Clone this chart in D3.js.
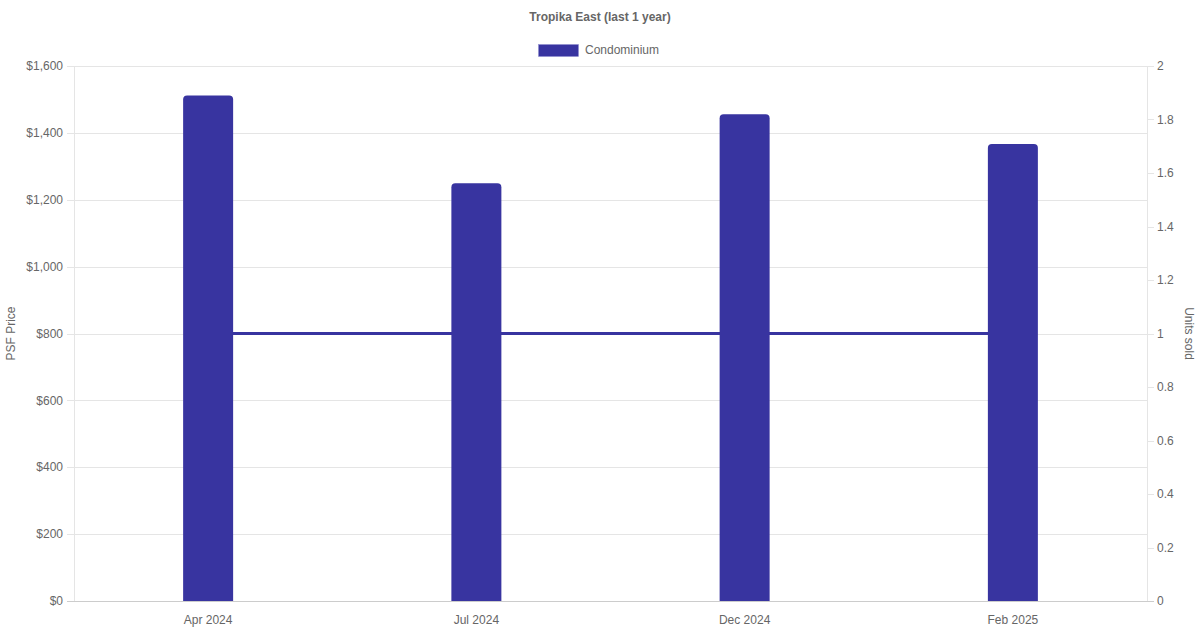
<!DOCTYPE html>
<html><head><meta charset="utf-8">
<script src="https://cdn.jsdelivr.net/npm/d3@7"></script>
<style>body{margin:0;background:#fff;}svg{display:block;font-family:"Liberation Sans",Arial,sans-serif;}</style>
</head><body>
<svg id="c" width="1200" height="630"></svg>
<script>
const categories = ["Apr 2024", "Jul 2024", "Dec 2024", "Feb 2025"];
const psfPrice = [1512, 1249, 1456, 1367];
const unitsSold = [1, 1, 1, 1];
const leftTicks = [0, 200, 400, 600, 800, 1000, 1200, 1400, 1600];
const rightTicks = [0, 0.2, 0.4, 0.6, 0.8, 1, 1.2, 1.4, 1.6, 1.8, 2];
const title = "Tropika East (last 1 year)";
const seriesName = "Condominium";

const color = "#3834a0";
const textColor = "#666";
const svg = d3.select("#c");
const m = {l: 74, r: 1147, t: 66, b: 601};

const x = d3.scaleBand().domain(categories).range([m.l, m.r]);
const yL = d3.scaleLinear().domain([0, 1600]).range([m.b, m.t]);
const yR = d3.scaleLinear().domain([0, 2]).range([m.b, m.t]);

// grid
svg.append("g").selectAll("line").data(leftTicks).join("line")
  .attr("x1", m.l - 7).attr("x2", m.r).attr("y1", d => Math.round(yL(d)) + 0.5).attr("y2", d => Math.round(yL(d)) + 0.5)
  .attr("stroke", d => d === 0 ? "#ccc" : "#e5e5e5").attr("stroke-width", 1);
svg.append("g").selectAll("line").data(rightTicks).join("line")
  .attr("x1", m.r).attr("x2", m.r + 7).attr("y1", d => Math.round(yR(d)) + 0.5).attr("y2", d => Math.round(yR(d)) + 0.5)
  .attr("stroke", "#e5e5e5");
// axis lines
svg.append("line").attr("x1", m.l + 0.5).attr("x2", m.l + 0.5).attr("y1", m.t).attr("y2", m.b).attr("stroke", "#e5e5e5");
svg.append("line").attr("x1", m.r + 0.5).attr("x2", m.r + 0.5).attr("y1", m.t).attr("y2", m.b).attr("stroke", "#e5e5e5");
svg.append("line").attr("x1", m.l).attr("x2", m.r + 7).attr("y1", m.b + 0.5).attr("y2", m.b + 0.5).attr("stroke", "#ccc");

// left labels
const fmt = d3.format(",");
svg.append("g").selectAll("text").data(leftTicks).join("text")
  .attr("x", 63).attr("y", d => yL(d)).attr("dy", "0.35em").attr("text-anchor", "end")
  .attr("font-size", 12).attr("fill", textColor).text(d => "$" + fmt(d));
svg.append("g").selectAll("text").data(rightTicks).join("text")
  .attr("x", 1157).attr("y", d => yR(d)).attr("dy", "0.35em").attr("text-anchor", "start")
  .attr("font-size", 12).attr("fill", textColor).text(d => d3.format("~g")(d));
svg.append("g").selectAll("text").data(categories).join("text")
  .attr("x", d => x(d) + x.bandwidth() / 2).attr("y", 620).attr("dy", "0.35em").attr("text-anchor", "middle")
  .attr("font-size", 12).attr("fill", textColor).text(d => d);

// axis titles
svg.append("text").attr("transform", `translate(15,${(m.t + m.b) / 2}) rotate(-90)`).attr("text-anchor", "middle")
  .attr("font-size", 12).attr("fill", textColor).text("PSF Price");
svg.append("text").attr("transform", `translate(1185,${(m.t + m.b) / 2}) rotate(90)`).attr("text-anchor", "middle")
  .attr("font-size", 12).attr("fill", textColor).text("Units sold");

// title
svg.append("text").attr("x", 600).attr("y", 17).attr("dy", "0.35em").attr("text-anchor", "middle")
  .attr("font-size", 12).attr("font-weight", "bold").attr("fill", textColor).text(title);
// legend
svg.append("rect").attr("x", 538.5).attr("y", 44.5).attr("width", 40).attr("height", 12).attr("fill", color).attr("stroke", "#8e8bd0").attr("stroke-width", 0.5);
svg.append("text").attr("x", 585).attr("y", 50).attr("dy", "0.35em").attr("font-size", 12).attr("fill", textColor).text(seriesName);

// line
const line = d3.line().x((d, i) => x(categories[i]) + x.bandwidth() / 2).y(d => yR(d));
svg.append("path").datum(unitsSold).attr("d", line).attr("fill", "none").attr("stroke", color).attr("stroke-width", 3);

// bars with rounded top
const bw = 50, r = 4;
svg.append("g").selectAll("path").data(psfPrice).join("path")
  .attr("d", (d, i) => {
    const cx = x(categories[i]) + x.bandwidth() / 2;
    const x0 = cx - bw / 2, x1 = cx + bw / 2, y0 = yL(d), yb = yL(0);
    return `M${x0},${yb}V${y0 + r}Q${x0},${y0} ${x0 + r},${y0}H${x1 - r}Q${x1},${y0} ${x1},${y0 + r}V${yb}Z`;
  })
  .attr("fill", color);
</script>
</body></html>
